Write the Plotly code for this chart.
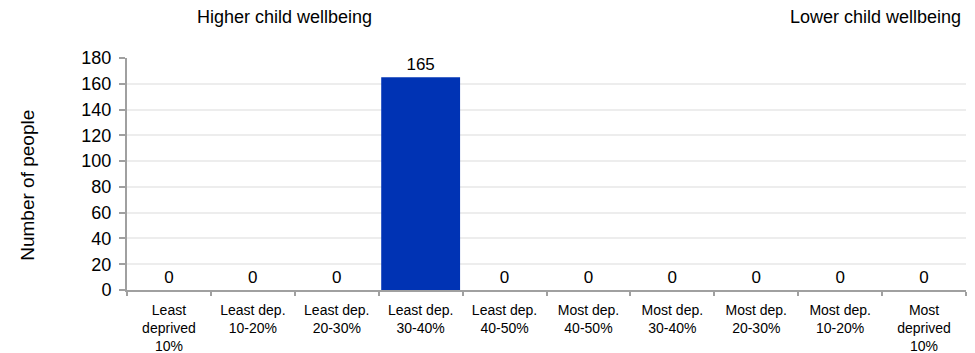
import plotly.graph_objects as go

categories = [
    "Least<br>deprived<br>10%", "Least dep.<br>10-20%", "Least dep.<br>20-30%",
    "Least dep.<br>30-40%", "Least dep.<br>40-50%", "Most dep.<br>40-50%",
    "Most dep.<br>30-40%", "Most dep.<br>20-30%", "Most dep.<br>10-20%",
    "Most<br>deprived<br>10%",
]
people = [0, 0, 0, 165, 0, 0, 0, 0, 0, 0]
y_ticks = list(range(0, 181, 20))

FONT = "Liberation Sans, Arial, sans-serif"

fig = go.Figure()
fig.add_trace(go.Bar(
    x=categories,
    y=people,
    marker=dict(color="#0033B4", line=dict(width=0)),
    text=[str(v) for v in people],
    textposition="outside",
    textfont=dict(size=17, color="#000000", family=FONT),
    cliponaxis=False,
))

fig.update_layout(
    width=975, height=353,
    margin=dict(l=127, r=9, t=58, b=63, autoexpand=False),
    paper_bgcolor="white",
    plot_bgcolor="white",
    bargap=0.06,
    showlegend=False,
    font=dict(family=FONT, color="#000000"),
    annotations=[
        dict(text="Higher child wellbeing", xref="paper", yref="paper",
             x=0.188, y=1.177, xanchor="center", yanchor="middle",
             showarrow=False, font=dict(size=18, family=FONT)),
        dict(text="Lower child wellbeing", xref="paper", yref="paper",
             x=0.9964, y=1.177, xanchor="right", yanchor="middle",
             showarrow=False, font=dict(size=18, family=FONT)),
        # y axis title, placed as in the reference (a bit below centre)
        dict(text="Number of people", xref="paper", yref="paper",
             x=-0.119, y=0.45, xanchor="center", yanchor="middle",
             textangle=-90, showarrow=False, font=dict(size=19, family=FONT)),
    ],
)

fig.update_xaxes(
    showline=True, linecolor="#a0a0a0", linewidth=2,
    ticks="outside", tickson="boundaries", ticklen=4, tickcolor="#a0a0a0",
    tickwidth=2, tickfont=dict(size=14, family=FONT), tickangle=0,
    ticklabelstandoff=6,
    showgrid=False, automargin=False,
)
fig.update_yaxes(
    range=[0, 180], tickvals=y_ticks,
    showline=True, linecolor="#a0a0a0", linewidth=2,
    ticks="outside", ticklen=6, tickcolor="#a0a0a0", tickwidth=2,
    tickfont=dict(size=18, family=FONT), ticklabelstandoff=4,
    showgrid=True, gridcolor="#ededed", gridwidth=2,
    zeroline=False, automargin=False,
)

fig.write_html("out.html", config={"displayModeBar": False},
               post_script="document.body.style.margin='0';")
